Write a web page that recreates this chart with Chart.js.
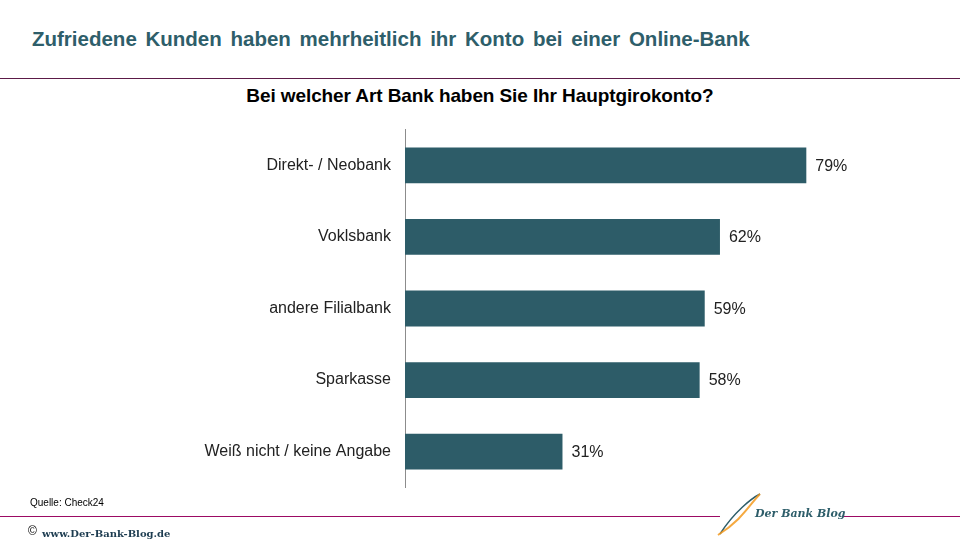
<!DOCTYPE html>
<html><head><meta charset="utf-8">
<script src="https://cdn.jsdelivr.net/npm/chart.js@4/dist/chart.umd.min.js"></script>
<style>
html,body{margin:0;padding:0;background:#fff;}
body{width:960px;height:540px;position:relative;overflow:hidden;font-family:"Liberation Sans",Arial,sans-serif;}
#title{position:absolute;left:32px;top:27px;font-size:20.5px;font-weight:bold;color:#2e5e6a;word-spacing:3px;white-space:nowrap;}
#topline{position:absolute;left:0;top:78px;width:960px;height:1px;background:#5c1a48;}
#sub{position:absolute;left:0;width:960px;top:85px;text-align:center;font-size:19px;font-weight:bold;color:#000;letter-spacing:-0.1px;}
#c{position:absolute;left:0;top:106px;}
#src{position:absolute;left:30px;top:497px;font-size:10px;color:#000;}
.bl{position:absolute;top:516px;height:1px;background:#9c0a64;}
#copy{position:absolute;left:28px;top:524px;font-size:12px;color:#000;}
#url{position:absolute;left:42px;top:528px;font-size:10px;font-family:"DejaVu Serif",serif;color:#1d3c50;font-weight:bold;}
#logo{position:absolute;left:712px;top:490px;}
#logotxt{position:absolute;left:755px;top:507px;font-family:"DejaVu Serif",serif;font-style:italic;font-weight:bold;font-size:11px;color:#2e5e6a;}
</style></head><body>
<div id="title">Zufriedene Kunden haben mehrheitlich ihr Konto bei einer Online-Bank</div>
<div id="topline"></div>
<div id="sub">Bei welcher Art Bank haben Sie Ihr Hauptgirokonto?</div>
<canvas id="c" width="960" height="405" style="width:960px;height:405px;"></canvas>
<div id="src">Quelle: Check24</div>
<div class="bl" style="left:0;width:720px;"></div>
<div class="bl" style="left:842px;width:118px;"></div>
<div id="copy">©</div>
<div id="url">www.Der-Bank-Blog.de</div>
<svg id="logo" width="60" height="50" viewBox="0 0 60 50">
<path d="M48 4 C 40 8, 22 22, 8 44" stroke="#2e5e6a" stroke-width="1.5" fill="none"/>
<path d="M48 4 C 38 14, 30 30, 6 45" stroke="#f39a1e" stroke-width="2" fill="none" opacity="0.85"/>
</svg>
<div id="logotxt">Der Bank Blog</div>
<script>
const categories = ["Direkt- / Neobank","Voklsbank","andere Filialbank","Sparkasse","Weiß nicht / keine Angabe"];
const values = [79,62,59,58,31];
const valueLabels = ["79%","62%","59%","58%","31%"];

const labelPlugin = {
  id:'valueLabels',
  afterDatasetsDraw(chart){
    const ctx = chart.ctx;
    const meta = chart.getDatasetMeta(0);
    ctx.save();
    ctx.font = '16px "Liberation Sans", Arial, sans-serif';
    ctx.fillStyle = '#222';
    ctx.textAlign = 'left';
    ctx.textBaseline = 'middle';
    meta.data.forEach((el,i)=>{
      ctx.fillText(valueLabels[i], el.x + 9, el.y + 1);
    });
    ctx.restore();
  }
};

new Chart(document.getElementById('c'),{
  type:'bar',
  data:{labels:categories,datasets:[{data:values,backgroundColor:'#2d5c68',borderWidth:0,barPercentage:0.5,categoryPercentage:1}]},
  options:{
    indexAxis:'y',
    responsive:false,maintainAspectRatio:false,animation:false,devicePixelRatio:1,
    layout:{padding:{left:0,right:47,top:0,bottom:0}},
    plugins:{legend:{display:false},tooltip:{enabled:false},title:{display:false}},
    scales:{
      x:{display:false,min:0,max:100},
      y:{
        afterFit(s){s.width=405;},
        grid:{display:false,drawTicks:false},
        border:{display:true,color:'#8c8c8c',width:1},
        ticks:{color:'#222',padding:14,font:{family:'"Liberation Sans", Arial, sans-serif',size:16}}
      }
    }
  },
  plugins:[labelPlugin]
});
</script>
</body></html>
